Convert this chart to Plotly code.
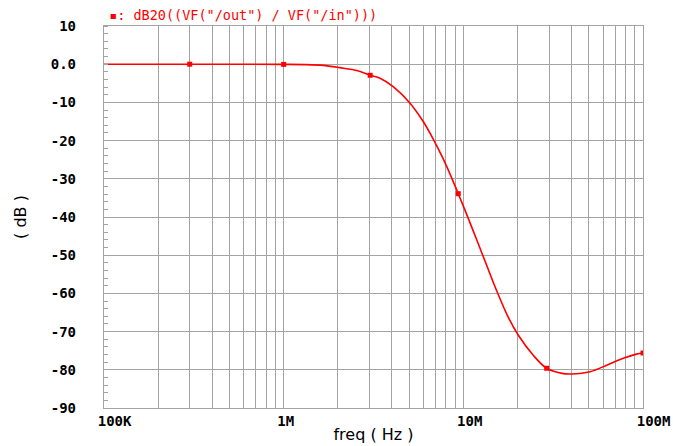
import plotly.graph_objects as go

# curve data (frequency in Hz, magnitude in dB)
freq = [1e5, 3e5, 1e6, 1.3e6, 1.66e6, 2.05e6, 2.58e6, 3.03e6, 3.44e6, 4.07e6,
        5.05e6, 5.98e6, 6.8e6, 7.73e6, 8.6e6, 9.37e6, 10.6e6, 11.9e6, 13.5e6,
        15.3e6, 17.8e6, 20.2e6, 24.5e6, 29.1e6, 36e6, 40e6, 50.7e6, 62.8e6,
        74.5e6, 92e6, 100e6]
db = [0.0, 0.0, -0.05, -0.1, -0.3, -0.9, -1.7, -2.9, -3.7, -5.9,
      -10.2, -15.0, -19.6, -24.8, -29.7, -33.9, -40.1, -46.1, -52.7,
      -59.2, -66.3, -70.9, -76.2, -79.6, -81.0, -81.1, -80.5, -78.8,
      -77.3, -75.9, -75.6]

# marker points
mk_freq = [3e5, 1e6, 3.03e6, 9.37e6, 29.1e6, 100e6]
mk_db = [0.0, -0.05, -2.9, -33.9, -79.6, -75.6]

# axis ticks
x_tickvals = [m * 10 ** e for e in (5, 6, 7) for m in range(1, 10)] + [1e8]
x_names = {1e5: "100K", 1e6: "1M", 1e7: "10M", 1e8: "100M"}
x_ticktext = [x_names.get(v, "") for v in x_tickvals]
y_tickvals = [10, 0, -10, -20, -30, -40, -50, -60, -70, -80, -90]
y_ticktext = ["10", "0.0", "-10", "-20", "-30", "-40", "-50", "-60", "-70", "-80", "-90"]

legend_text = "▪: dB20((VF(\"/out\") / VF(\"/in\")))"

RED = "#ff0000"
GRID = "#a3a3a3"
FONT = "DejaVu Sans Mono"

fig = go.Figure()
fig.add_trace(go.Scatter(x=freq, y=db, mode="lines",
                         line=dict(color=RED, width=1.6, shape="spline", smoothing=0.9),
                         hoverinfo="skip", showlegend=False))
fig.add_trace(go.Scatter(x=mk_freq, y=mk_db, mode="markers",
                         marker=dict(symbol="square", size=5, color=RED),
                         showlegend=False))

fig.update_layout(
    width=673, height=446,
    margin=dict(l=104, r=30, t=26, b=38),
    paper_bgcolor="white", plot_bgcolor="white",
    font=dict(family=FONT, size=13, color="black"),
    annotations=[dict(x=0, y=1, xref="paper", yref="paper", xanchor="left", yanchor="bottom",
                      xshift=3, yshift=1, text=legend_text, showarrow=False,
                      font=dict(family=FONT, size=13.5, color=RED))],
)
fig.update_xaxes(
    type="log", range=[5, 8], tickvals=x_tickvals, ticktext=x_ticktext,
    showgrid=True, gridcolor=GRID, gridwidth=1.4, automargin=False,
    showline=True, linecolor=GRID, linewidth=1.4, mirror=True,
    ticks="", ticklabelposition="outside right", ticklabelshift=-7, zeroline=False,
    tickfont=dict(family=FONT, size=14, color="black", weight="bold"),
    title=dict(text="freq ( Hz )", standoff=0, font=dict(family="DejaVu Sans", size=16)),
)
fig.update_yaxes(
    range=[-90, 10], tickvals=y_tickvals, ticktext=y_ticktext,
    showgrid=True, gridcolor=GRID, gridwidth=1.4, automargin=False,
    showline=True, linecolor=GRID, linewidth=1.4, mirror=True,
    ticks="", zeroline=False, ticklabelstandoff=24,
    tickfont=dict(family=FONT, size=14, color="black", weight="bold"),
    minor=dict(ticks="inside", dtick=2, tick0=0, ticklen=4, tickcolor=GRID, tickwidth=1.2, showgrid=False),
    title=dict(text="( dB )", standoff=20, font=dict(family="DejaVu Sans", size=16)),
)

fig.write_html("out.html", config={"displayModeBar": False},
               post_script="document.body.style.margin='0';")
